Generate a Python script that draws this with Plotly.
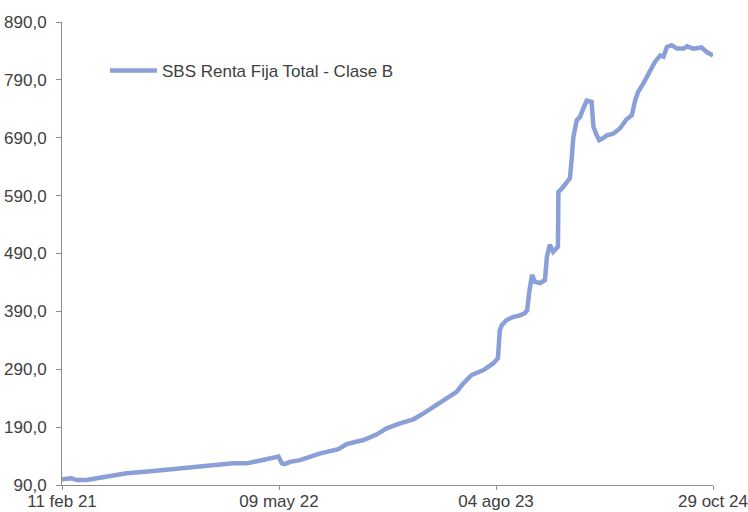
import plotly.graph_objects as go

series_name = "SBS Renta Fija Total - Clase B"

dates = [
    "2021-02-11", "2021-03-03", "2021-03-14", "2021-04-03", "2021-05-01",
    "2021-06-26", "2021-08-20", "2021-10-15", "2021-11-11", "2021-12-02",
    "2022-01-06", "2022-02-03", "2022-03-03", "2022-03-30", "2022-04-27",
    "2022-05-08", "2022-05-15", "2022-05-21", "2022-06-01", "2022-06-22",
    "2022-08-03", "2022-09-10", "2022-09-27", "2022-11-01", "2022-11-29",
    "2022-12-19", "2023-01-16", "2023-02-13", "2023-03-06", "2023-04-03",
    "2023-04-23", "2023-05-14", "2023-05-25", "2023-06-14", "2023-07-09",
    "2023-07-29", "2023-08-08", "2023-08-12", "2023-08-16", "2023-08-26",
    "2023-09-08", "2023-09-23", "2023-10-03", "2023-10-08", "2023-10-12",
    "2023-10-18", "2023-10-24", "2023-11-04", "2023-11-14", "2023-11-18",
    "2023-11-24", "2023-12-01", "2023-12-11", "2023-12-12", "2023-12-19",
    "2023-12-29", "2024-01-05", "2024-01-09", "2024-01-12", "2024-01-19",
    "2024-01-26", "2024-02-02", "2024-02-09", "2024-02-19", "2024-02-23",
    "2024-03-01", "2024-03-06", "2024-03-15", "2024-03-22", "2024-04-04",
    "2024-04-18", "2024-05-02", "2024-05-13", "2024-05-20", "2024-05-26",
    "2024-06-06", "2024-06-20", "2024-06-30", "2024-07-11", "2024-07-18",
    "2024-07-25", "2024-08-04", "2024-08-15", "2024-08-29", "2024-09-05",
    "2024-09-18", "2024-10-05", "2024-10-16", "2024-10-29",
]

values = [
    99.8, 101.6, 98.6, 98.6, 102.6,
    110.2, 114.2, 118.8, 121.0, 122.8,
    124.5, 127.4, 127.4, 131.5, 137.0,
    139.0, 127.4, 126.0, 130.0, 133.0,
    144.7, 152.0, 160.8, 167.7, 177.5,
    188.0, 196.5, 203.5, 213.8, 228.0,
    239.7, 251.0, 262.7, 280.0, 288.6,
    300.0, 309.0, 357.7, 366.0, 375.0,
    380.0, 383.0, 387.0, 392.0, 422.0,
    453.0, 441.0, 439.0, 444.0, 484.0,
    505.0, 493.0, 501.5, 596.6, 602.0,
    611.0, 620.0, 657.0, 690.0, 720.0,
    726.0, 741.0, 754.0, 752.0, 709.0,
    694.0, 686.0, 690.0, 694.0, 697.0,
    706.0, 722.0, 729.0, 755.0, 769.0,
    784.0, 804.0, 821.0, 832.0, 830.0,
    847.0, 850.0, 844.0, 844.0, 848.0,
    844.0, 846.0, 838.0, 832.0,
]

x_tick_vals = ["2021-02-11", "2022-05-09", "2023-08-04", "2024-10-29"]
x_tick_text = ["11 feb 21", "09 may 22", "04 ago 23", "29 oct 24"]
y_tick_vals = [90, 190, 290, 390, 490, 590, 690, 790, 890]
y_tick_text = ["90,0", "190,0", "290,0", "390,0", "490,0", "590,0", "690,0", "790,0", "890,0"]

line_color = "#8A9FD8"
axis_color = "#8C8C8C"
text_color = "#404040"
font_family = "Liberation Sans, Arial, sans-serif"

fig = go.Figure()
fig.add_trace(go.Scatter(
    x=dates, y=values, mode="lines", name=series_name,
    line=dict(color=line_color, width=4.5),
))

fig.update_layout(
    width=748, height=512,
    margin=dict(l=62, r=35, t=22, b=27, autoexpand=False),
    paper_bgcolor="white", plot_bgcolor="white",
    font=dict(family=font_family, size=17, color=text_color),
    showlegend=True,
    legend=dict(x=0.066, y=0.933, xanchor="left", yanchor="top", itemwidth=47,
                bgcolor="rgba(0,0,0,0)", font=dict(size=17, color=text_color)),
)
fig.update_xaxes(
    type="date", range=["2021-02-11", "2024-10-29"], automargin=False,
    tickmode="array", tickvals=x_tick_vals, ticktext=x_tick_text,
    showgrid=False, zeroline=False, showline=True, linecolor=axis_color, linewidth=1,
    ticks="outside", ticklen=4, tickcolor=axis_color, ticklabelstandoff=-3,
)
fig.update_yaxes(
    range=[90, 890], automargin=False, tickmode="array", tickvals=y_tick_vals, ticktext=y_tick_text,
    showgrid=False, zeroline=False, showline=True, linecolor=axis_color, linewidth=1,
    ticks="outside", ticklen=5, tickcolor=axis_color, ticklabelstandoff=6,
)

fig.write_html(
    "out.html",
    config={"displayModeBar": False},
    post_script="document.body.style.margin='0';document.body.style.overflow='hidden';",
)
